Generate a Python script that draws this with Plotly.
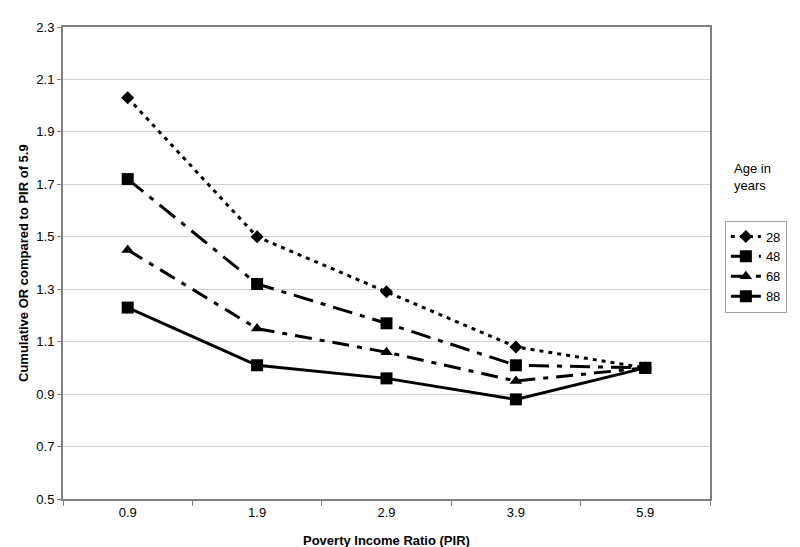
import plotly.graph_objects as go

categories = ["0.9", "1.9", "2.9", "3.9", "5.9"]
ages = ["28", "48", "68", "88"]
or_28 = [2.03, 1.50, 1.29, 1.08, 1.00]
or_48 = [1.72, 1.32, 1.17, 1.01, 1.00]
or_68 = [1.45, 1.15, 1.06, 0.95, 1.00]
or_88 = [1.23, 1.01, 0.96, 0.88, 1.00]
y_ticks = [0.5, 0.7, 0.9, 1.1, 1.3, 1.5, 1.7, 1.9, 2.1, 2.3]

series = [or_28, or_48, or_68, or_88]
styles = [
    dict(dash="4px,5px", symbol="diamond", size=10),
    dict(dash="20px,8px,5px,8px", symbol="square", size=12),
    dict(dash="17px,8px,5px,8px", symbol="triangle-up", size=11),
    dict(dash="solid", symbol="square", size=12),
]

FONT = "Arial, Liberation Sans, sans-serif"
FS = 13
fig = go.Figure()
for name, vals, st in zip(ages, series, styles):
    fig.add_trace(go.Scatter(
        x=categories, y=vals, name=name, mode="lines+markers",
        line=dict(color="black", width=3, dash=st["dash"]),
        marker=dict(color="black", symbol=st["symbol"], size=st["size"]),
    ))

fig.update_layout(
    width=800, height=547,
    margin=dict(l=55, r=98, t=13, b=56),
    paper_bgcolor="white", plot_bgcolor="white",
    font=dict(family=FONT, size=FS, color="black"),
    showlegend=True,
    legend=dict(
        x=1.023, y=0.59, xanchor="left", yanchor="top",
        bordercolor="#a0a0a0", borderwidth=1, bgcolor="white",
        font=dict(family=FONT, size=FS, color="black"),
        tracegroupgap=0, itemwidth=30,
    ),
    xaxis=dict(
        type="category", categoryorder="array", categoryarray=categories,
        range=[-0.5, 4.5], showgrid=False,
        showline=True, linecolor="#808080", linewidth=2, mirror=True,
        ticks="outside", tickson="boundaries", ticklen=5, tickcolor="#808080",
        tickfont=dict(family=FONT, size=FS, color="black"),
        zeroline=False,
    ),
    yaxis=dict(
        range=[0.5, 2.3], tickvals=y_ticks, tickformat=".1f",
        showgrid=True, gridcolor="#d4d4d4", gridwidth=1,
        showline=True, linecolor="#808080", linewidth=2, mirror=True,
        ticks="outside", ticklen=4, tickcolor="#808080",
        tickfont=dict(family=FONT, size=FS, color="black"),
        zeroline=False,
    ),
    annotations=[
        dict(text="<b>Poverty Income Ratio (PIR)</b>", x=0.5, y=-0.088,
             xref="paper", yref="paper", xanchor="center", yanchor="middle",
             showarrow=False, font=dict(family=FONT, size=FS, color="black")),
        dict(text="<b>Cumulative OR compared to PIR of 5.9</b>", x=(15 - 55) / 647, y=0.5,
             xref="paper", yref="paper", textangle=-90,
             xanchor="center", yanchor="middle", showarrow=False,
             font=dict(family=FONT, size=FS, color="black")),
        dict(text="Age in<br>years", x=1.034, y=0.72,
             xref="paper", yref="paper", xanchor="left", yanchor="top",
             align="left", showarrow=False,
             font=dict(family=FONT, size=FS, color="black")),
    ],
)

fig.write_html("out.html")
